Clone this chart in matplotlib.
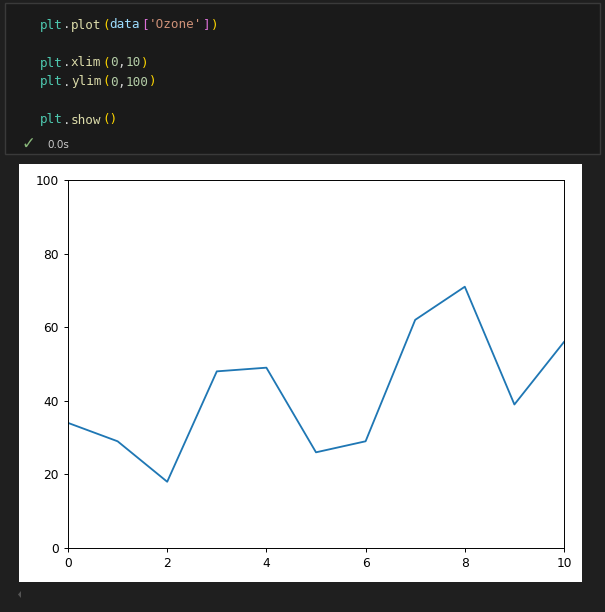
import matplotlib.pyplot as plt
from matplotlib.patches import Rectangle, Polygon

# Ozone values (index 0..10)
ozone = [34, 29, 18, 48, 49, 26, 29, 62, 71, 39, 56]
x_idx = list(range(len(ozone)))

W, H = 605, 612

fig = plt.figure(figsize=(W/100, H/100), dpi=100, facecolor='#1f1f1f')

def fx(px):
    return px / W

def fy(py):
    return 1 - py / H

# code cell box
fig.patches.append(Rectangle((fx(5), fy(154)), fx(600) - fx(5), fy(3) - fy(154),
                             transform=fig.transFigure, facecolor='#1a1a1a',
                             edgecolor='#3a3a3a', lw=1, zorder=-5))

# code lines, token by token
mono = 'DejaVu Sans Mono'
fs = 9.1
cw = 7.75  # px per char, a bit wider than the glyph advance so tokens don't touch
lines = [
    (25, [('plt', '#4ec9b0'), ('.', '#d4d4d4'), ('plot', '#dcdcaa'), ('(', '#ffd700'),
          ('data', '#9cdcfe'), ('[', '#da70d6'), ("'Ozone'", '#ce9178'),
          (']', '#da70d6'), (')', '#ffd700')]),
    (63, [('plt', '#4ec9b0'), ('.', '#d4d4d4'), ('xlim', '#dcdcaa'), ('(', '#ffd700'),
          ('0', '#b5cea8'), (',', '#d4d4d4'), ('10', '#b5cea8'), (')', '#ffd700')]),
    (82, [('plt', '#4ec9b0'), ('.', '#d4d4d4'), ('ylim', '#dcdcaa'), ('(', '#ffd700'),
          ('0', '#b5cea8'), (',', '#d4d4d4'), ('100', '#b5cea8'), (')', '#ffd700')]),
    (120, [('plt', '#4ec9b0'), ('.', '#d4d4d4'), ('show', '#dcdcaa'), ('()', '#ffd700')]),
]
for y, tokens in lines:
    col = 0
    for tok, c in tokens:
        fig.text(fx(40 + col * cw), fy(y), tok, color=c, family=mono, fontsize=fs,
                 va='center', ha='left')
        col += len(tok)

# run status
fig.text(fx(28), fy(144), '\u2713', color='#89b87a', fontsize=12, va='center', ha='center')
fig.text(fx(47), fy(145), '0.0s', color='#cccccc', fontsize=7.5, va='center', ha='left')

# white output image
fig.patches.append(Rectangle((fx(19), fy(582)), fx(582) - fx(19), fy(164) - fy(582),
                             transform=fig.transFigure, facecolor='white', edgecolor='none',
                             zorder=-5))

# scroll arrow
fig.patches.append(Polygon([(fx(18), fy(594.5)), (fx(21), fy(591)), (fx(21), fy(598))],
                           closed=True, transform=fig.transFigure, facecolor='#555555',
                           edgecolor='none', zorder=-5))

ax = fig.add_axes([fx(68), fy(548), fx(564) - fx(68), fy(180) - fy(548)])
ax.plot(x_idx, ozone, color='#1f77b4', lw=1.5 * 0.88)
ax.set_xlim(0, 10)
ax.set_ylim(0, 100)
ax.tick_params(labelsize=8.8, length=3.1, width=0.7, colors='black')
for s in ax.spines.values():
    s.set_linewidth(0.7)

fig.savefig('out.png', dpi=100, facecolor=fig.get_facecolor())
